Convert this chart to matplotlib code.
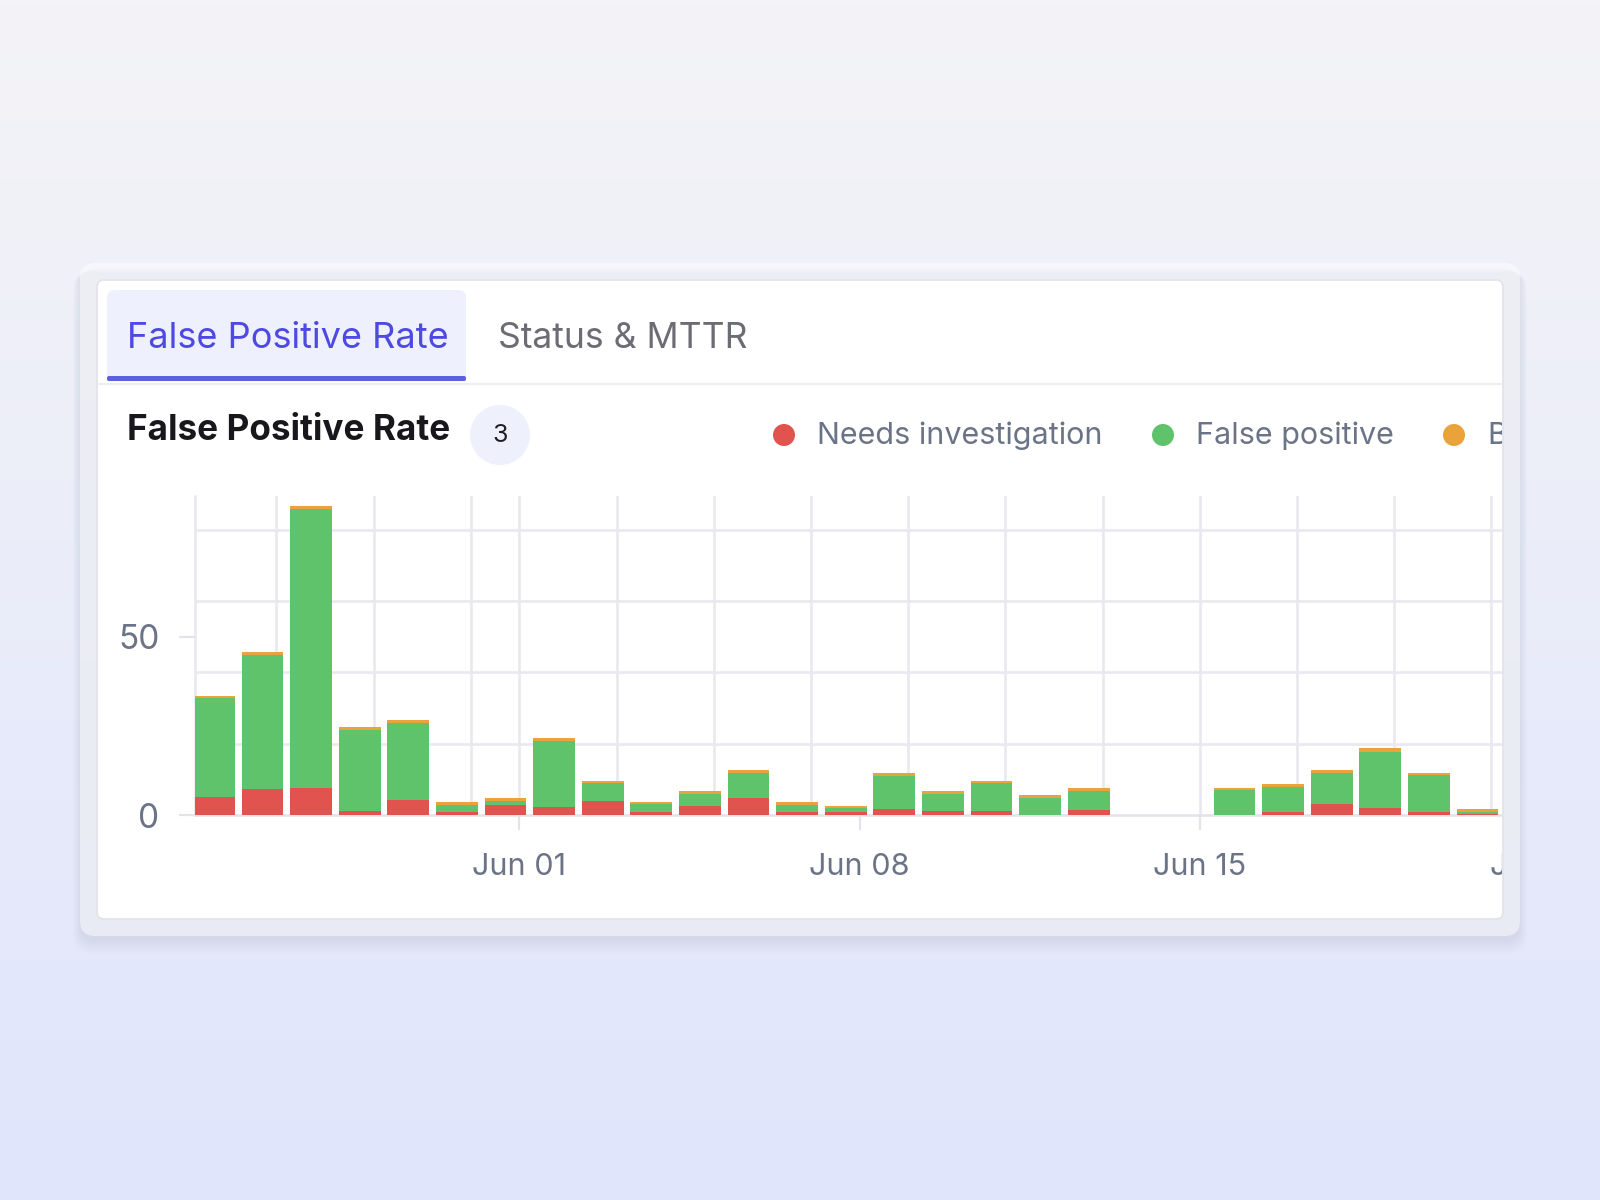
import datetime as dt

import matplotlib
matplotlib.use("Agg")
import matplotlib.pyplot as plt
import matplotlib.dates as mdates
import numpy as np
from matplotlib.patches import Circle, FancyBboxPatch, Rectangle
from matplotlib.ticker import FixedLocator, MultipleLocator
from matplotlib.transforms import Bbox, TransformedBbox

plt.rcParams["font.family"] = ["Inter", "DejaVu Sans"]

# --- data (daily counts) ---
dates = [
    "2025-05-25", "2025-05-26", "2025-05-27", "2025-05-28", "2025-05-29",
    "2025-05-30", "2025-05-31", "2025-06-01", "2025-06-02", "2025-06-03",
    "2025-06-04", "2025-06-05", "2025-06-06", "2025-06-07", "2025-06-08",
    "2025-06-09", "2025-06-10", "2025-06-11", "2025-06-12", "2025-06-13",
    "2025-06-14", "2025-06-15", "2025-06-16", "2025-06-17", "2025-06-18",
    "2025-06-19", "2025-06-20",
]
needs_investigation = [5.1, 7.3, 7.7, 1.1, 4.2, 0.9, 2.8, 2.3, 3.9, 0.8,
                       2.5, 4.9, 0.9, 0.9, 1.7, 1.1, 1.1, 0.0, 1.5, 0.0,
                       0.0, 0.0, 0.8, 3.1, 1.9, 0.8, 0.3]
false_positive = [27.6, 37.6, 78.1, 22.7, 21.7, 1.9, 1.1, 18.5, 5.0, 2.2,
                  3.4, 6.8, 1.9, 1.0, 9.2, 4.9, 7.8, 4.9, 5.3, 0.0,
                  0.0, 6.9, 7.0, 8.8, 15.9, 10.3, 0.5]
benign = [0.8, 0.7, 0.8, 0.8, 0.7, 0.8, 0.8, 0.8, 0.7, 0.6,
          0.7, 0.9, 0.8, 0.7, 0.8, 0.6, 0.7, 0.7, 0.9, 0.0,
          0.0, 0.8, 0.9, 0.7, 0.9, 0.7, 0.8]
series_labels = ["Needs investigation", "False positive", "Benign"]
series_colors = ["#e0534f", "#5ec36a", "#eaa23a"]

x_tick_dates = ["2025-06-01", "2025-06-08", "2025-06-15", "2025-06-22"]
grid_dates = ["2025-05-27", "2025-05-29", "2025-05-31", "2025-06-01",
              "2025-06-03", "2025-06-05", "2025-06-07", "2025-06-09",
              "2025-06-11", "2025-06-13", "2025-06-15", "2025-06-17",
              "2025-06-19", "2025-06-21"]
y_ticks = [0, 50]

TEXT_GRAY = "#6b7386"
GRID = "#e8e8ef"
AXIS = "#e3e4eb"


def to_num(ds):
    return mdates.date2num([dt.datetime.strptime(d, "%Y-%m-%d") for d in ds])


def main():
    fig = plt.figure(figsize=(16, 12), dpi=100)

    # ---------- background + card (pixel coords) ----------
    bg = fig.add_axes([0, 0, 1, 1], zorder=0)
    bg.set_xlim(0, 1600)
    bg.set_ylim(1200, 0)
    bg.axis("off")
    top = np.array([244, 244, 247]) / 255
    bot = np.array([224, 229, 252]) / 255
    t = np.linspace(0, 1, 300)[:, None, None]
    grad = top * (1 - t) + bot * t
    bg.imshow(grad, extent=(0, 1600, 1200, 0), aspect="auto", zorder=0)

    # soft shadow under the card
    for i in range(8):
        bg.add_patch(FancyBboxPatch(
            (80 - i, 268 + i * 0.6), 1440 + 2 * i, 673 + i * 1.2,
            boxstyle="round,pad=0,rounding_size=18", fc="#7d84b8",
            ec="none", alpha=0.018, zorder=1))
    bg.add_patch(FancyBboxPatch((80, 263), 1440, 673,
                                boxstyle="round,pad=0,rounding_size=15",
                                fc="white", ec="none", alpha=0.5, zorder=2))
    panel = FancyBboxPatch((97, 280), 1406, 639,
                           boxstyle="round,pad=0,rounding_size=7",
                           fc="white", ec="#e2e3ea", lw=1.2, zorder=3)
    bg.add_patch(panel)
    # text can only be clipped by a rectangle in Agg
    panel_box = TransformedBbox(
        Bbox([[97 / 1600, (1200 - 919) / 1200], [1502 / 1600, (1200 - 280) / 1200]]),
        fig.transFigure)

    # tabs
    bg.add_patch(FancyBboxPatch((107, 290), 359, 100,
                                boxstyle="round,pad=0,rounding_size=8",
                                fc="#eef0fd", ec="none", zorder=4))
    bg.add_patch(Rectangle((100, 381), 400, 14, fc="white", ec="none", zorder=4.5))
    bg.plot([98, 1502], [383.5, 383.5], color="#ececf1", lw=1.5, zorder=4.6)
    bg.add_patch(FancyBboxPatch((107, 376), 359, 5,
                                boxstyle="round,pad=0,rounding_size=2",
                                fc="#5c5fe2", ec="none", zorder=5))
    bg.text(127, 338, "False Positive Rate", fontsize=26, color="#4f49e3",
            va="center", ha="left", zorder=6)
    bg.text(498, 338, "Status & MTTR", fontsize=25.6, color="#6c6c74",
            va="center", ha="left", zorder=6)

    # card header
    bg.text(127, 431, "False Positive Rate", fontsize=25.3, fontweight="bold",
            color="#18181c", va="center", ha="left", zorder=6)
    bg.add_patch(Circle((500, 435), 30, fc="#eef0fc", ec="none", zorder=5))
    bg.text(500, 436, "3", fontsize=18, color="#1e1e24", va="center",
            ha="center", zorder=6)

    # legend
    legend_x = [784, 1163, 1454]
    for lx, lab, col in zip(legend_x, series_labels, series_colors):
        bg.add_patch(Circle((lx, 435), 11, fc=col, ec="none", zorder=6))
        txt = bg.text(lx + 33, 436, lab, fontsize=22, color=TEXT_GRAY,
                      va="center", ha="left", zorder=6)
        txt.set_clip_on(True)
        txt.set_clip_box(panel_box)

    # ---------- chart ----------
    x = to_num(dates)
    jun1 = to_num(["2025-06-01"])[0]
    bar_offset = 0.715
    xc = x + bar_offset

    ax = fig.add_axes([195 / 1600, 385 / 1200, 1307 / 1600, 319 / 1200], zorder=2)
    ax.patch.set_alpha(0)

    bottoms = np.zeros(len(dates))
    for vals, col in zip([needs_investigation, false_positive, benign], series_colors):
        vals = np.asarray(vals)
        ax.bar(xc, vals, width=0.86, bottom=bottoms, color=col,
               edgecolor="none", zorder=3)
        bottoms = bottoms + vals

    ax.set_xlim(jun1 - 6.673, jun1 + 20.22)
    ax.set_ylim(0, 89.45)

    for s in ["top", "right"]:
        ax.spines[s].set_visible(False)
    ax.spines["left"].set_color(GRID)
    ax.spines["left"].set_linewidth(1.9)
    ax.spines["bottom"].set_color(AXIS)
    ax.spines["bottom"].set_linewidth(1.9)
    ax.spines["bottom"].set_zorder(2.5)

    # grid lines on minor ticks
    ax.xaxis.remove_overlapping_locs = False
    ax.xaxis.set_minor_locator(FixedLocator(to_num(grid_dates)))
    ax.yaxis.set_minor_locator(MultipleLocator(20))
    ax.grid(which="minor", color=GRID, lw=1.9, zorder=0)
    ax.set_axisbelow(True)
    ax.tick_params(which="minor", length=0)

    ax.set_yticks(y_ticks)
    ax.set_yticklabels([str(v) for v in y_ticks])
    ax.tick_params(axis="y", which="major", length=11.5, width=1.6,
                   color=AXIS, pad=14, labelsize=24, labelcolor=TEXT_GRAY)

    tick_nums = to_num(x_tick_dates)
    lo, hi = ax.get_xlim()
    shown = [v for v in tick_nums if lo <= v <= hi]
    ax.set_xticks(shown)
    ax.set_xticklabels([""] * len(shown))
    ax.tick_params(axis="x", which="major", length=11, width=1.6, color=AXIS)
    # labels drawn as text so the one past the panel edge is clipped, not dropped
    for v in tick_nums:
        lab = mdates.num2date(v).strftime("%b %d")
        tx = ax.text(v, -0.164, lab, transform=ax.get_xaxis_transform(),
                     fontsize=22, color=TEXT_GRAY, ha="center", va="center")
        tx.set_clip_on(True)
        tx.set_clip_box(panel_box)

    fig.savefig("out.png", dpi=100)


if __name__ == "__main__":
    main()
